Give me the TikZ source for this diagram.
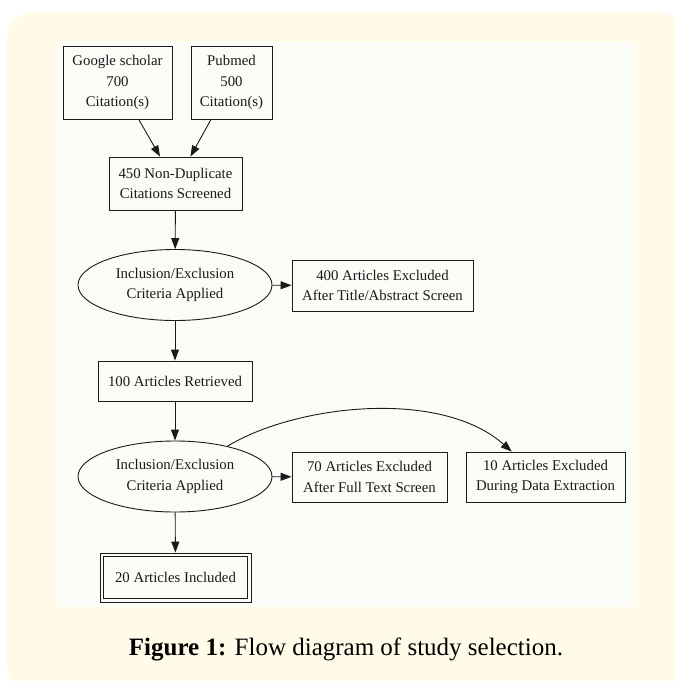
\documentclass[tikz,border=0pt]{standalone}
\usepackage{fontspec}
\setmainfont{Liberation Serif}
\usetikzlibrary{shapes.geometric,arrows.meta,calc}
\definecolor{panelbg}{HTML}{FFFBE8}
\definecolor{innerbg}{HTML}{FBFCF8}
\definecolor{ink}{HTML}{1A1A1A}
\newcommand\diagfont{\fontsize{14.8}{20.5}\selectfont}
\tikzset{
  boxnode/.style={draw=ink, line width=0.9pt, rectangle, inner sep=0pt, align=center, font=\diagfont, text=ink},
  ellnode/.style={draw=ink, line width=0.9pt, ellipse, inner sep=0pt, align=center, font=\diagfont, text=ink, minimum width=194pt, minimum height=71pt},
  conn/.style={draw=ink, line width=0.9pt, -{Triangle[length=11pt,width=8pt]}},
}
\begin{document}
\begin{tikzpicture}[x=1pt,y=-1pt]
\useasboundingbox (0,0) rectangle (675,681);
\clip (0,0) rectangle (675,681);
\fill[panelbg, rounded corners=25pt] (7,12) rectangle (683,690);
\fill[innerbg] (57,42) rectangle (635,607);

\node[boxnode, minimum width=109pt, minimum height=73pt] (google) at (117.5,82.5) {Google scholar\\700\\Citation(s)};
\node[boxnode, minimum width=81pt, minimum height=73pt] (pubmed) at (231.5,82.5) {Pubmed\\500\\Citation(s)};
\node[boxnode, minimum width=133pt, minimum height=53pt] (nondup) at (175.5,183.5) {450 Non-Duplicate\\Citations Screened};
\node[ellnode] (ell1) at (175,285) {Inclusion/Exclusion\\Criteria Applied};
\node[boxnode, minimum width=181pt, minimum height=51pt] (excl400) at (382.5,285.5) {400 Articles Excluded\\After Title/Abstract Screen};
\node[boxnode, minimum width=154pt, minimum height=40pt] (ret100) at (175,381) {100 Articles Retrieved};
\node[ellnode] (ell2) at (175,476.5) {Inclusion/Exclusion\\Criteria Applied};
\node[boxnode, minimum width=155pt, minimum height=50pt] (excl70) at (369.5,477) {70 Articles Excluded\\After Full Text Screen};
\node[boxnode, minimum width=159pt, minimum height=50pt] (excl10) at (545.5,477) {10 Articles Excluded\\During Data Extraction};
\node[boxnode, minimum width=151pt, minimum height=49pt] (inc20) at (175.5,577.5) {20 Articles Included};
\draw[ink, line width=0.9pt] ($(inc20.south west)+(4,-4)$) rectangle ($(inc20.north east)+(-4,4)$);

\draw[conn] (google) -- (nondup);
\draw[conn] (pubmed) -- (nondup);
\draw[conn] (nondup) -- (ell1);
\draw[conn] (ell1) -- (excl400);
\draw[conn] (ell1) -- (ret100);
\draw[conn] (ret100) -- (ell2);
\draw[conn] (ell2) -- (excl70);
\draw[conn] (ell2.30) .. controls (295,405) and (440,388) .. (excl10.143);
\draw[conn] (ell2) -- (inc20);

\node[anchor=base, font=\fontsize{25}{30}\selectfont, text=black, inner sep=0pt] (caption) at (346,655) {\textbf{Figure 1:} Flow diagram of study selection.};
\end{tikzpicture}
\end{document}
